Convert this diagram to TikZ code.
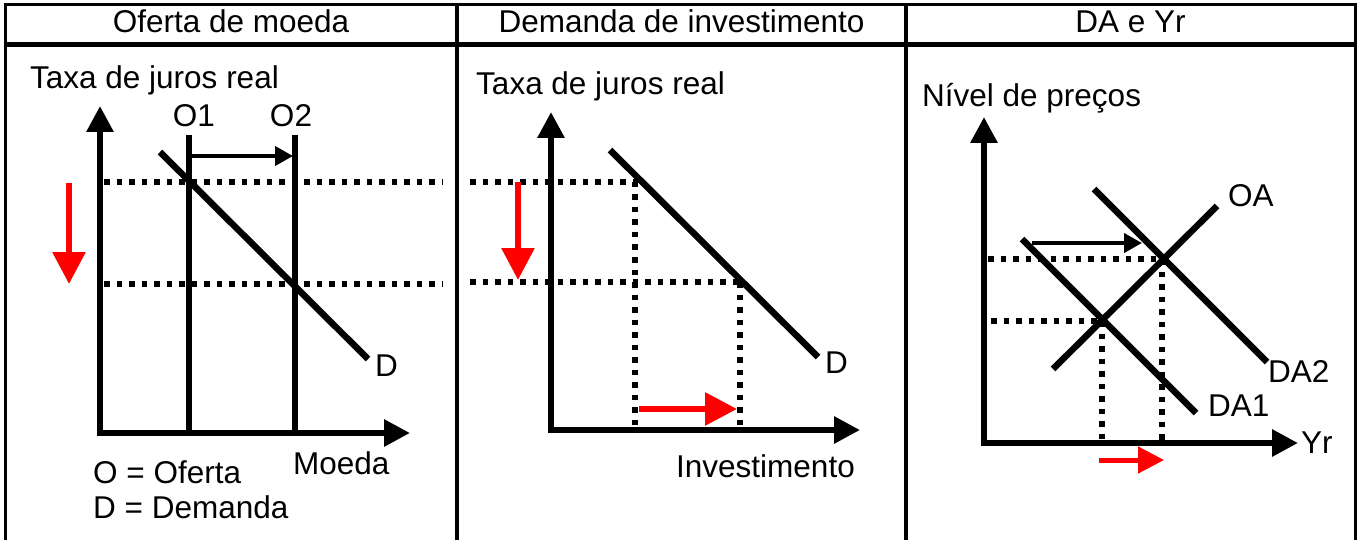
\documentclass[tikz,border=0pt]{standalone}
\usepackage{fontspec}
\setmainfont{Liberation Sans}
\usetikzlibrary{arrows.meta}
\begin{document}
\begin{tikzpicture}[x=1pt,y=-1pt,
  lbl/.style={inner sep=0pt, font=\fontsize{31.5}{36}\selectfont},
  axis/.style={line width=6pt, -{Triangle[width=26pt,length=26pt]}},
  curve/.style={line width=6.5pt},
  dots/.style={line width=5.5pt, dash pattern=on 5.5pt off 7pt},
  redarrow/.style={red, line width=6pt, -{Triangle[width=32pt,length=32pt]}},
  redsmall/.style={red, line width=5pt, -{Triangle[width=26pt,length=26pt]}},
  shiftarrow/.style={line width=4pt, -{Triangle[width=19pt,length=18pt]}},
  frameline/.style={line width=3pt},
  divider/.style={line width=4pt}]
\useasboundingbox (0,0) rectangle (1360,540);
\fill[white] (0,0) rectangle (1360,540);

% ---------- frame ----------
\draw[frameline] (5,540) -- (5,5) -- (1355,5) -- (1355,540);
\draw[line width=5pt] (5,45) -- (1355,45);
\draw[divider] (457,5) -- (457,540);
\draw[divider] (906,5) -- (906,540);

% ---------- titles ----------
\node[lbl, anchor=base] (t1) at (231,33) {Oferta de moeda};
\node[lbl, anchor=base] (t2) at (681.5,33) {Demanda de investimento};
\node[lbl, anchor=base] (t3) at (1130.5,33) {DA e Yr};

% ---------- panel 1 ----------
\coordinate (a1o) at (100,436);
\coordinate (a1y) at (100,106);
\coordinate (a1xo) at (97,433);
\coordinate (a1x) at (410,433);
\draw[axis] (a1o) -- (a1y);
\draw[axis] (a1xo) -- (a1x);
\coordinate (o1t) at (189,135); \coordinate (o1b) at (189,433);
\coordinate (o2t) at (295,135); \coordinate (o2b) at (295,433);
\draw[curve] (o1t) -- (o1b);
\draw[curve] (o2t) -- (o2b);
\coordinate (s1a) at (192,156); \coordinate (s1b) at (293,156);
\draw[shiftarrow] (s1a) -- (s1b);
\coordinate (d1a) at (160,152); \coordinate (d1b) at (368,359);
\draw[curve] (d1a) -- (d1b);
\coordinate (h1a) at (104,182); \coordinate (h1b) at (442,182);
\coordinate (h2a) at (104,284); \coordinate (h2b) at (442,284);
\draw[dots] (h1a) -- (h1b);
\draw[dots] (h2a) -- (h2b);
\coordinate (r1a) at (69,183); \coordinate (r1b) at (69,284);
\draw[redarrow] (r1a) -- (r1b);
\node[lbl, anchor=base west] (y1) at (30,89) {Taxa de juros real};
\node[lbl, anchor=base] (lo1) at (194,127) {O1};
\node[lbl, anchor=base] (lo2) at (291,127) {O2};
\node[lbl, anchor=base west] (ld1) at (375,376) {D};
\node[lbl, anchor=base west] (x1) at (293,474) {Moeda};
\node[lbl, anchor=base west] (k1) at (93,483) {O = Oferta};
\node[lbl, anchor=base west] (k2) at (93,518) {D = Demanda};

% ---------- panel 2 ----------
\coordinate (a2o) at (551,433);
\coordinate (a2y) at (551,112);
\coordinate (a2xo) at (548,430);
\coordinate (a2x) at (860,430);
\draw[axis] (a2o) -- (a2y);
\draw[axis] (a2xo) -- (a2x);
\coordinate (d2a) at (610,150); \coordinate (d2b) at (818,357);
\draw[curve] (d2a) -- (d2b);
\coordinate (g1a) at (470,182); \coordinate (g1b) at (638,182);
\coordinate (g2a) at (470,282); \coordinate (g2b) at (742,282);
\coordinate (v1a) at (635,182); \coordinate (v1b) at (635,430);
\coordinate (v2a) at (740,282); \coordinate (v2b) at (740,430);
\draw[dots] (g1a) -- (g1b);
\draw[dots] (g2a) -- (g2b);
\draw[dots] (v1a) -- (v1b);
\draw[dots] (v2a) -- (v2b);
\coordinate (r2a) at (518,182); \coordinate (r2b) at (518,280);
\draw[redarrow] (r2a) -- (r2b);
\coordinate (r3a) at (639,409); \coordinate (r3b) at (737,409);
\draw[redarrow] (r3a) -- (r3b);
\node[lbl, anchor=base west] (y2) at (476,95) {Taxa de juros real};
\node[lbl, anchor=base west] (ld2) at (825,373) {D};
\node[lbl, anchor=base west] (x2) at (676,477) {Investimento};

% ---------- panel 3 ----------
\coordinate (a3o) at (984,446);
\coordinate (a3y) at (984,117);
\coordinate (a3xo) at (981,443);
\coordinate (a3x) at (1298,443);
\draw[axis] (a3o) -- (a3y);
\draw[axis] (a3xo) -- (a3x);
\coordinate (oaa) at (1053,369); \coordinate (oab) at (1217,206);
\coordinate (da1a) at (1022,239); \coordinate (da1b) at (1196,413);
\coordinate (da2a) at (1094,189); \coordinate (da2b) at (1267,362);
\draw[curve] (oaa) -- (oab);
\draw[curve] (da1a) -- (da1b);
\draw[curve] (da2a) -- (da2b);
\coordinate (p1a) at (988,259); \coordinate (p1b) at (1162,259);
\coordinate (p2a) at (991,321); \coordinate (p2b) at (1102,321);
\coordinate (q1a) at (1102,321); \coordinate (q1b) at (1102,440);
\coordinate (q2a) at (1162,259); \coordinate (q2b) at (1162,440);
\draw[dots] (p1a) -- (p1b);
\draw[dots] (p2a) -- (p2b);
\draw[dots] (q1a) -- (q1b);
\draw[dots] (q2a) -- (q2b);
\coordinate (s3a) at (1032,243); \coordinate (s3b) at (1142,243);
\draw[shiftarrow] (s3a) -- (s3b);
\coordinate (r4a) at (1099,460); \coordinate (r4b) at (1164,460);
\draw[redsmall] (r4a) -- (r4b);
\node[lbl, anchor=base west] (y3) at (922,107) {Nível de preços};
\node[lbl, anchor=base west] (loa) at (1228,207) {OA};
\node[lbl, anchor=base west] (lda2) at (1268,382) {DA2};
\node[lbl, anchor=base west] (lda1) at (1208,416) {DA1};
\node[lbl, anchor=base west] (x3) at (1301,453) {Yr};
\end{tikzpicture}
\end{document}
